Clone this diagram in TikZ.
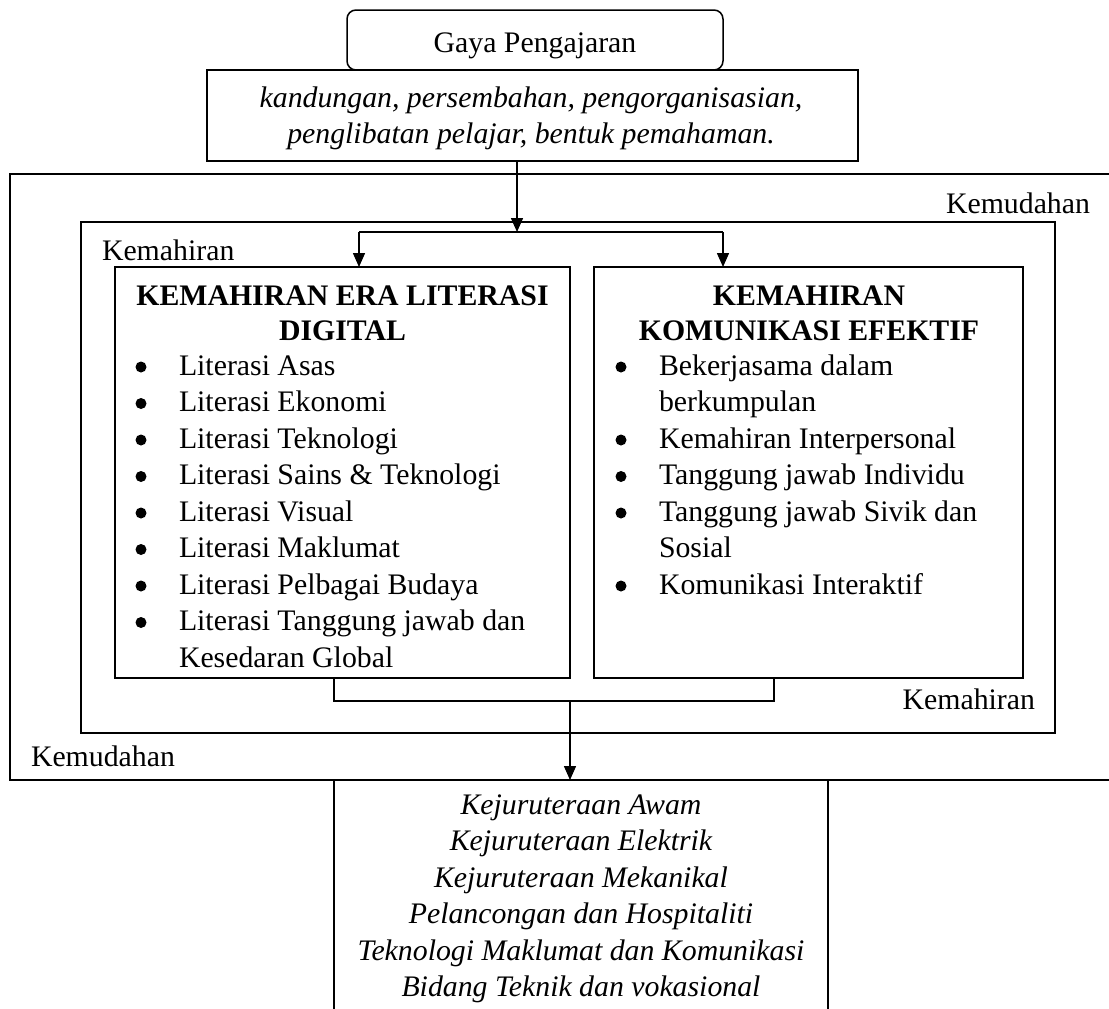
\documentclass[tikz,border=0pt]{standalone}
\usepackage{fontspec}
\setmainfont{Liberation Serif}
\usetikzlibrary{arrows.meta}
\newcommand\dgfs{\fontsize{29.8}{36.5}\selectfont}
\begin{document}
\begin{tikzpicture}[x=1pt,y=-1pt,
  box/.style={draw, line width=1.5pt, inner sep=0pt, outer sep=0pt, anchor=north west},
  txt/.style={inner sep=0pt, outer sep=0pt, anchor=base, font=\dgfs},
  itxt/.style={txt, font=\dgfs\itshape},
  btxt/.style={txt, font=\dgfs\bfseries},
  bul/.style={circle, fill=black, inner sep=0pt, minimum size=11pt},
  conn/.style={line width=1.5pt},
  arr/.style={conn, -{Triangle[length=14pt,width=12pt]}}]
\useasboundingbox (0,0) rectangle (1109,1009);
\clip (0,0) rectangle (1109,1009);

% boxes
\node[box, rounded corners=9pt, minimum width=376pt, minimum height=60pt] (gaya) at (347,10) {};
\node[box, minimum width=651pt, minimum height=91pt] (ciri) at (207,70) {};
\node[box, line width=2pt, minimum width=1110pt, minimum height=606pt] (kemudahan) at (10,174) {};
\node[box, minimum width=974pt, minimum height=511pt] (kemahiran) at (81,222) {};
\node[box, minimum width=455pt, minimum height=411pt] (digital) at (115,267) {};
\node[box, minimum width=429pt, minimum height=411pt] (komunikasi) at (594,267) {};
\node[box, minimum width=494pt, minimum height=240pt] (bidang) at (334,780) {};

% top texts
\node[txt] (tgaya) at (535,52) {Gaya Pengajaran};
\node[itxt] (tciri1) at (531,107) {kandungan, persembahan, pengorganisasian,};
\node[itxt] (tciri2) at (531,143) {penglibatan pelajar, bentuk pemahaman.};

% labels
\node[txt, anchor=base east] (lkemudahanA) at (1090,213) {Kemudahan};
\node[txt, anchor=base west] (lkemahiranA) at (102,260) {Kemahiran};
\node[txt, anchor=base east] (lkemahiranB) at (1035,709) {Kemahiran};
\node[txt, anchor=base west] (lkemudahanB) at (31,766) {Kemudahan};

% titles
\node[btxt] (tdig1) at (342.5,305) {KEMAHIRAN ERA LITERASI};
\node[btxt] (tdig2) at (342.5,340) {DIGITAL};
\node[btxt] (tkom1) at (809,305) {KEMAHIRAN};
\node[btxt] (tkom2) at (809,340) {KOMUNIKASI EFEKTIF};

% left list
\foreach \t [count=\i from 0] in {Literasi Asas, Literasi Ekonomi, Literasi Teknologi,
  Literasi Sains \& Teknologi, Literasi Visual, Literasi Maklumat,
  Literasi Pelbagai Budaya, Literasi Tanggung jawab dan, Kesedaran Global}
  \node[txt, anchor=base west] (L\i) at (179,{375+36.5*\i}) {\t};
\foreach \i in {0,...,7}
  \node[bul] (Lb\i) at (141,{375+36.5*\i-8}) {};

% right list
\foreach \t [count=\i from 0] in {Bekerjasama dalam, berkumpulan, Kemahiran Interpersonal,
  Tanggung jawab Individu, Tanggung jawab Sivik dan, Sosial, Komunikasi Interaktif}
  \node[txt, anchor=base west] (R\i) at (659,{375+36.5*\i}) {\t};
\foreach \i in {0,2,3,4,6}
  \node[bul] (Rb\i) at (621,{375+36.5*\i-8}) {};

% bottom list
\foreach \t [count=\i from 0] in {Kejuruteraan Awam, Kejuruteraan Elektrik, Kejuruteraan Mekanikal,
  Pelancongan dan Hospitaliti, Teknologi Maklumat dan Komunikasi, Bidang Teknik dan vokasional}
  \node[itxt] (B\i) at (581,{814+36.5*\i}) {\t};

% connectors
\coordinate (split) at (517,232);
\coordinate (splitL) at (359,232);
\coordinate (splitR) at (723,232);
\draw[arr] (ciri.south -| split) -- (split);
\draw[conn] (splitL) -- (splitR);
\draw[arr] (splitL) -- (splitL |- digital.north);
\draw[arr] (splitR) -- (splitR |- komunikasi.north);
\coordinate (joinL) at (334,701);
\coordinate (joinR) at (774,701);
\coordinate (join) at (570,701);
\draw[conn] (joinL |- digital.south) -- (joinL) -- (joinR) -- (joinR |- komunikasi.south);
\draw[arr] (join) -- (join |- bidang.north);
\end{tikzpicture}
\end{document}
